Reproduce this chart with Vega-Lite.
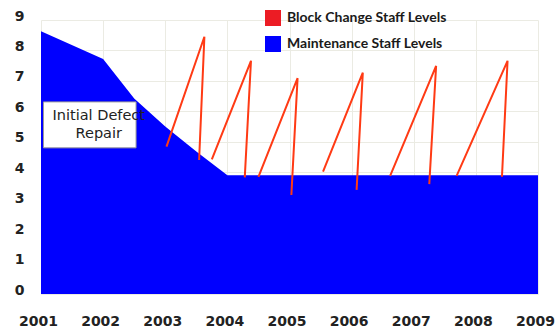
{
  "$schema": "https://vega.github.io/schema/vega-lite/v6.json",
  "width": 497,
  "height": 274,
  "autosize": {"type": "none"},
  "padding": {"left": 41, "top": 20, "right": 20, "bottom": 35},
  "background": "white",
  "config": {
    "view": {"stroke": null},
    "axis": {
      "grid": true,
      "gridColor": "#ebebe3",
      "gridWidth": 1,
      "domain": false,
      "ticks": false,
      "labelOverlap": false,
      "labelBound": false,
      "labelFlush": false,
      "labelFont": "DejaVu Sans",
      "labelFontWeight": "bold",
      "labelFontSize": 14,
      "labelColor": "#222222",
      "title": null
    }
  },
  "datasets": {
    "maintenance": [
      {"year": 2001, "staff": 8.63},
      {"year": 2002, "staff": 7.72},
      {"year": 2002.5, "staff": 6.42},
      {"year": 2003, "staff": 5.5},
      {"year": 2003.5, "staff": 4.68},
      {"year": 2004, "staff": 3.9},
      {"year": 2009, "staff": 3.9}
    ],
    "blockChange": [
      {"cycle": 1, "step": 1, "year": 2003.02, "staff": 4.84},
      {"cycle": 1, "step": 2, "year": 2003.63, "staff": 8.45},
      {"cycle": 1, "step": 3, "year": 2003.545, "staff": 4.4},
      {"cycle": 2, "step": 1, "year": 2003.75, "staff": 4.42},
      {"cycle": 2, "step": 2, "year": 2004.38, "staff": 7.66},
      {"cycle": 2, "step": 3, "year": 2004.28, "staff": 3.83},
      {"cycle": 3, "step": 1, "year": 2004.5, "staff": 3.85},
      {"cycle": 3, "step": 2, "year": 2005.13, "staff": 7.09},
      {"cycle": 3, "step": 3, "year": 2005.03, "staff": 3.25},
      {"cycle": 4, "step": 1, "year": 2005.54, "staff": 4.02},
      {"cycle": 4, "step": 2, "year": 2006.18, "staff": 7.27},
      {"cycle": 4, "step": 3, "year": 2006.08, "staff": 3.42},
      {"cycle": 5, "step": 1, "year": 2006.62, "staff": 3.88},
      {"cycle": 5, "step": 2, "year": 2007.36, "staff": 7.49},
      {"cycle": 5, "step": 3, "year": 2007.25, "staff": 3.61},
      {"cycle": 6, "step": 1, "year": 2007.69, "staff": 3.88},
      {"cycle": 6, "step": 2, "year": 2008.51, "staff": 7.66},
      {"cycle": 6, "step": 3, "year": 2008.42, "staff": 3.85}
    ],
    "note": [{"label": "Initial Defect Repair"}]
  },
  "layer": [
    {
      "data": {"name": "maintenance"},
      "mark": {"type": "area", "interpolate": "linear"},
      "encoding": {
        "x": {
          "field": "year",
          "type": "quantitative",
          "scale": {"domain": [2001, 2009], "nice": false, "zero": false},
          "axis": {
            "values": [2001, 2002, 2003, 2004, 2005, 2006, 2007, 2008, 2009],
            "format": "d",
            "labelPadding": 20,
            "labelOffset": -3
          }
        },
        "y": {
          "field": "staff",
          "type": "quantitative",
          "scale": {"domain": [0, 9], "nice": false},
          "axis": {
            "values": [0, 1, 2, 3, 4, 5, 6, 7, 8, 9],
            "tickCount": 10,
            "labelPadding": 17,
            "labelOffset": -4
          }
        },
        "fill": {
          "datum": "Maintenance Staff Levels",
          "type": "nominal",
          "scale": {
            "domain": ["Block Change Staff Levels", "Maintenance Staff Levels"],
            "range": ["#ec1c24", "#0000ff"]
          },
          "legend": {
            "title": null,
            "orient": "none",
            "legendX": 224,
            "legendY": -10,
            "padding": 0,
            "symbolType": "square",
            "symbolSize": 256,
            "symbolStrokeWidth": 0,
            "symbolOpacity": 1,
            "rowPadding": 10,
            "labelOffset": 6,
            "labelFont": "Lato",
            "labelFontWeight": "bold",
            "labelFontSize": 14,
            "labelColor": "#1a1a1a",
            "labelLimit": 300
          }
        }
      }
    },
    {
      "data": {"name": "blockChange"},
      "mark": {"type": "line", "color": "#ff3a14", "strokeWidth": 2},
      "encoding": {
        "x": {
          "field": "year",
          "type": "quantitative",
          "axis": {
            "values": [2001, 2002, 2003, 2004, 2005, 2006, 2007, 2008, 2009],
            "format": "d",
            "labelPadding": 20,
            "labelOffset": -3
          }
        },
        "y": {
          "field": "staff",
          "type": "quantitative",
          "axis": {
            "values": [0, 1, 2, 3, 4, 5, 6, 7, 8, 9],
            "tickCount": 10,
            "labelPadding": 17,
            "labelOffset": -4
          }
        },
        "detail": {"field": "cycle", "type": "nominal"},
        "order": {"field": "step", "type": "quantitative"}
      }
    },
    {
      "data": {"name": "note"},
      "mark": {"type": "rect", "fill": "white", "stroke": "#9a9a9a", "strokeWidth": 1},
      "encoding": {
        "x": {
          "datum": 2001.04,
          "type": "quantitative",
          "axis": {
            "values": [2001, 2002, 2003, 2004, 2005, 2006, 2007, 2008, 2009],
            "format": "d",
            "labelPadding": 20,
            "labelOffset": -3
          }
        },
        "x2": {"datum": 2002.53},
        "y": {
          "datum": 6.31,
          "type": "quantitative",
          "axis": {
            "values": [0, 1, 2, 3, 4, 5, 6, 7, 8, 9],
            "tickCount": 10,
            "labelPadding": 17,
            "labelOffset": -4
          }
        },
        "y2": {"datum": 4.8}
      }
    },
    {
      "data": {"name": "note"},
      "mark": {
        "type": "text",
        "text": "Initial Defect",
        "font": "DejaVu Sans",
        "fontSize": 14.5,
        "color": "#222222",
        "align": "center",
        "baseline": "middle"
      },
      "encoding": {
        "x": {
          "datum": 2001.93,
          "type": "quantitative",
          "axis": {
            "values": [2001, 2002, 2003, 2004, 2005, 2006, 2007, 2008, 2009],
            "format": "d",
            "labelPadding": 20,
            "labelOffset": -3
          }
        },
        "y": {
          "datum": 5.84,
          "type": "quantitative",
          "axis": {
            "values": [0, 1, 2, 3, 4, 5, 6, 7, 8, 9],
            "tickCount": 10,
            "labelPadding": 17,
            "labelOffset": -4
          }
        }
      }
    },
    {
      "data": {"name": "note"},
      "mark": {
        "type": "text",
        "text": "Repair",
        "font": "DejaVu Sans",
        "fontSize": 14.5,
        "color": "#222222",
        "align": "center",
        "baseline": "middle"
      },
      "encoding": {
        "x": {
          "datum": 2001.93,
          "type": "quantitative",
          "axis": {
            "values": [2001, 2002, 2003, 2004, 2005, 2006, 2007, 2008, 2009],
            "format": "d",
            "labelPadding": 20,
            "labelOffset": -3
          }
        },
        "y": {
          "datum": 5.26,
          "type": "quantitative",
          "axis": {
            "values": [0, 1, 2, 3, 4, 5, 6, 7, 8, 9],
            "tickCount": 10,
            "labelPadding": 17,
            "labelOffset": -4
          }
        }
      }
    }
  ]
}
